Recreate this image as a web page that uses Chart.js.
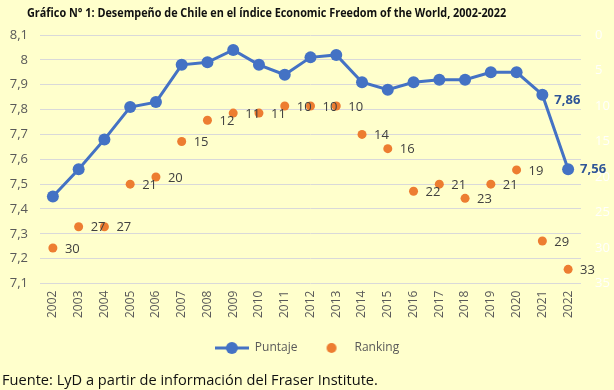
<!DOCTYPE html>
<html>
<head>
<meta charset="utf-8">
<script src="https://cdn.jsdelivr.net/npm/chart.js@4.4.0/dist/chart.umd.min.js"></script>
<style>
  html, body { margin: 0; padding: 0; background: #FFFFCC; }
  #wrap { position: relative; width: 614px; height: 390px; overflow: hidden; }
  #title { position: absolute; left: 27px; top: 3px; font: bold 13px "Open Sans", sans-serif; color: #111; white-space: nowrap;
           transform: scaleX(0.835); transform-origin: left top; }
  #source { position: absolute; left: 2px; top: 369px; font: 14.6px "Open Sans", sans-serif; color: #111; white-space: nowrap; }
  #box { position: absolute; left: 0; top: 0; width: 614px; height: 390px; }
</style>
</head>
<body>
<div id="wrap">
  <div id="box"><canvas id="chart"></canvas></div>
  <div id="title">Gráfico N° 1: Desempeño de Chile en el índice Economic Freedom of the World, 2002-2022</div>
  <div id="source">Fuente: LyD a partir de información del Fraser Institute.</div>
</div>
<script>
// data
const years = ['2002', '2003', '2004', '2005', '2006', '2007', '2008', '2009', '2010', '2011',
               '2012', '2013', '2014', '2015', '2016', '2017', '2018', '2019', '2020', '2021', '2022'];
const puntaje = [7.45, 7.56, 7.68, 7.81, 7.83, 7.98, 7.99, 8.04, 7.98, 7.94,
                 8.01, 8.02, 7.91, 7.88, 7.91, 7.92, 7.92, 7.95, 7.95, 7.86, 7.56];
const ranking = [30, 27, 27, 21, 20, 15, 12, 11, 11, 10,
                 10, 10, 14, 16, 22, 21, 23, 21, 19, 29, 33];
const puntajeLabeled = [19, 20];

const BLUE = '#4472C4';
const ORANGE = '#ED7D31';
const TEXT = '#595959';

function fmt(v) {
    return String(Math.round(v * 100) / 100).replace('.', ',');
}

// legend symbols
function legendIcon(withLine, color, r) {
    const c = document.createElement('canvas');
    c.width = 34; c.height = 14;
    const g = c.getContext('2d');
    if (withLine) {
        g.strokeStyle = color; g.lineWidth = 3;
        g.beginPath(); g.moveTo(0, 7); g.lineTo(34, 7); g.stroke();
    }
    g.fillStyle = color;
    g.beginPath(); g.arc(17, 7, r, 0, Math.PI * 2); g.fill();
    return c;
}
const iconPuntaje = legendIcon(true, BLUE, 6);
const iconRanking = legendIcon(false, ORANGE, 5);

const valueLabels = {
    id: 'valueLabels',
    afterDatasetsDraw(chart) {
        const ctx = chart.ctx;
        ctx.save();
        ctx.textBaseline = 'middle';
        ctx.textAlign = 'left';

        ctx.font = '13px "Open Sans", sans-serif';
        ctx.fillStyle = '#404040';
        chart.getDatasetMeta(1).data.forEach(function (pt, i) {
            ctx.fillText(ranking[i], pt.x + 12, pt.y + 1);
        });

        ctx.font = 'bold 13px "Open Sans", sans-serif';
        ctx.fillStyle = '#2F5597';
        const meta0 = chart.getDatasetMeta(0);
        puntajeLabeled.forEach(function (i) {
            const pt = meta0.data[i];
            const dy = i === 19 ? 6 : 0;
            ctx.fillText(fmt(puntaje[i]), pt.x + 12, pt.y + dy);
        });
        ctx.restore();
    }
};

const ctx = document.getElementById('chart');

new Chart(ctx, {
    type: 'line',
    data: {
        labels: years,
        datasets: [{
            label: 'Puntaje',
            data: puntaje,
            yAxisID: 'y',
            borderColor: BLUE,
            backgroundColor: BLUE,
            borderWidth: 3,
            pointRadius: 6,
            pointBackgroundColor: BLUE,
            pointBorderWidth: 0,
            tension: 0
        }, {
            label: 'Ranking',
            data: ranking,
            yAxisID: 'y1',
            showLine: false,
            borderColor: ORANGE,
            backgroundColor: ORANGE,
            pointRadius: 4.5,
            pointBackgroundColor: ORANGE,
            pointBorderWidth: 0
        }]
    },
    options: {
        responsive: true,
        maintainAspectRatio: false,
        animation: false,
        layout: {
            padding: { top: 35, left: 0, right: 0, bottom: 26 }
        },
        plugins: {
            tooltip: { enabled: false },
            legend: {
                position: 'bottom',
                labels: {
                    usePointStyle: true,
                    pointStyleWidth: 34,
                    padding: 17,
                    color: TEXT,
                    font: { family: '"Open Sans", sans-serif', size: 12 },
                    generateLabels: function (chart) {
                        const items = Chart.defaults.plugins.legend.labels.generateLabels(chart);
                        items[0].pointStyle = iconPuntaje;
                        items[1].pointStyle = iconRanking;
                        return items;
                    }
                }
            }
        },
        scales: {
            x: {
                offset: true,
                grid: { display: false, drawTicks: false },
                border: { display: false },
                ticks: {
                    color: TEXT,
                    maxRotation: 90,
                    minRotation: 90,
                    padding: 7,
                    font: { family: '"Open Sans", sans-serif', size: 12 }
                }
            },
            y: {
                position: 'left',
                min: 7.1,
                max: 8.1,
                afterFit: function (scale) { scale.width = 40; },
                ticks: {
                    stepSize: 0.1,
                    color: TEXT,
                    padding: 12,
                    font: { family: '"Open Sans", sans-serif', size: 13 },
                    callback: function (v) { return fmt(v); }
                },
                grid: { color: '#D9D9D9', drawTicks: false },
                border: { display: false }
            },
            y1: {
                position: 'right',
                reverse: true,
                min: 0,
                max: 35,
                afterFit: function (scale) { scale.width = 33; },
                ticks: {
                    stepSize: 5,
                    color: 'rgba(255,255,255,0.95)',
                    padding: 14,
                    font: { family: '"Open Sans", sans-serif', size: 13 }
                },
                grid: { display: false, drawTicks: false },
                border: { display: false }
            }
        }
    },
    plugins: [valueLabels]
});
</script>
</body>
</html>
